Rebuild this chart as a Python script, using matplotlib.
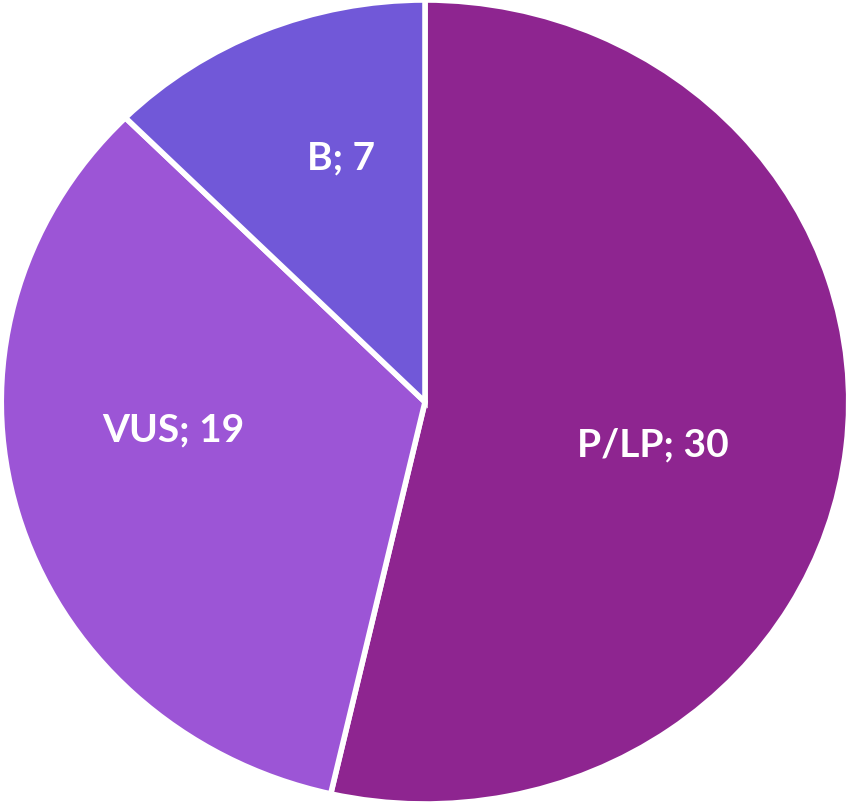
import matplotlib.pyplot as plt

# classification counts
categories = ['P/LP', 'VUS', 'B']
counts = [30, 19, 7]
colors = ['#8E2590', '#9C55D6', '#7158D8']

labels = [f'{c}; {n}' for c, n in zip(categories, counts)]

fig = plt.figure(figsize=(8.5, 8.08), dpi=100)
ax = fig.add_axes([0, 0, 1, 1])

wedges, texts = ax.pie(counts, labels=labels, colors=colors, startangle=90,
                       counterclock=False, labeldistance=0.6,
                       wedgeprops=dict(edgecolor='white', linewidth=4),
                       textprops=dict(color='white', fontsize=28, fontweight='bold',
                                      family='Lato', ha='center', va='center'))

# nudge labels to where the original sits
offsets = {'P/LP': (0.538, -0.107), 'VUS': (-0.594, -0.07), 'B': (-0.198, 0.607)}
for t, c in zip(texts, categories):
    t.set_position(offsets[c])
    t.set_ha('center')

ax.set_aspect('auto')
ax.set_xlim(-1.003, 1.003)
ax.set_ylim(-1.01, 1.0)
ax.axis('off')

plt.savefig('out.png', dpi=100)
